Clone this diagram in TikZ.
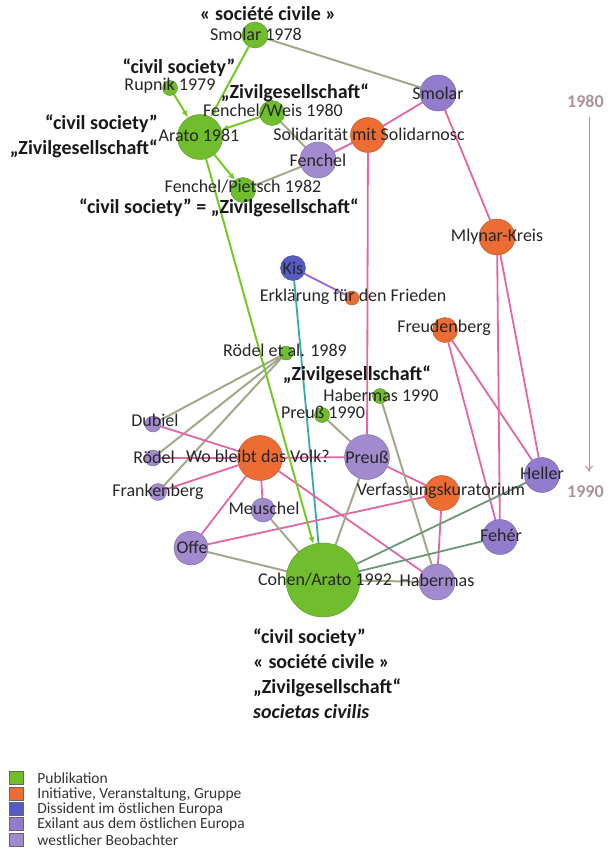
\documentclass[tikz,border=0pt]{standalone}
\usepackage{fontspec}
\setmainfont{Carlito}
\usepackage{tikz}
\usetikzlibrary{arrows.meta}
\usetikzlibrary{positioning}

\definecolor{cpub}{RGB}{112,190,46}
\definecolor{cinit}{RGB}{236,108,52}
\definecolor{cdiss}{RGB}{84,92,196}
\definecolor{cexil}{RGB}{146,124,204}
\definecolor{cwest}{RGB}{162,138,206}
\definecolor{lpink}{RGB}{226,102,164}
\definecolor{lgray}{RGB}{166,166,140}
\definecolor{lgreen}{RGB}{118,200,40}
\definecolor{lteal}{RGB}{56,168,170}
\definecolor{lviolet}{RGB}{150,104,204}
\definecolor{lsage}{RGB}{108,150,120}
\definecolor{ctime}{RGB}{172,148,148}

\pgfdeclarelayer{edges}
\pgfsetlayers{edges,main}

\tikzset{
    bubble/.style={circle, inner sep=0pt, minimum size=#1, line width=0.4pt},
    pub/.style={bubble=#1, fill=cpub, draw=cpub!75!black},
    init/.style={bubble=#1, fill=cinit, draw=cinit!75!black},
    diss/.style={bubble=#1, fill=cdiss, draw=cdiss!75!black},
    exil/.style={bubble=#1, fill=cexil, draw=cexil!75!black},
    westobs/.style={bubble=#1, fill=cwest, draw=cwest!75!black},
    lbl/.style={inner sep=0pt, text=black!85, font=\fontsize{18}{20}\selectfont},
    term/.style={inner sep=0pt, text=black!90, font=\fontsize{20}{25}\selectfont\bfseries},
    rel/.style={draw=lpink, line width=1.8pt},
    cit/.style={draw=lgray, line width=2pt},
    sage/.style={draw=lsage, line width=1.8pt},
    lineage/.style={draw=lgreen, line width=2pt, -{Latex[length=7pt,width=6pt]}},
    legsq/.style={draw=black!60, minimum width=14pt, minimum height=13pt, inner sep=0pt},
    legtxt/.style={inner sep=0pt, text=black!80, font=\fontsize{15.5}{17}\selectfont},
}

\begin{document}
\begin{tikzpicture}[x=1pt, y=-1pt, >=latex]
    \useasboundingbox (0,0) rectangle (612,862);

    % actors and publications
    \node[pub=26pt] (smolarA) at (255,35) {};
    \node[pub=15pt] (rupnik) at (170,88) {};
    \node[pub=25pt] (fweis) at (272,113) {};
    \node[pub=45pt] (arato) at (200,137) {};
    \node[pub=25pt] (fpietsch) at (243,190) {};
    \node[exil=36pt] (smolar) at (438,93) {};
    \node[init=35pt] (solid) at (368,135) {};
    \node[westobs=36pt] (fenchel) at (318,160) {};
    \node[init=36pt] (mlynar) at (497,237) {};
    \node[diss=25pt] (kis) at (293,268) {};
    \node[init=14pt] (erkl) at (352,298) {};
    \node[init=25pt] (freud) at (445,330) {};
    \node[pub=14pt] (roedelA) at (286,353) {};
    \node[pub=15pt] (habA) at (380,396) {};
    \node[pub=15pt] (preussA) at (322,415) {};
    \node[westobs=16pt] (dubiel) at (153,424) {};
    \node[westobs=16pt] (roedel) at (153,458) {};
    \node[init=45pt] (volk) at (260,458) {};
    \node[westobs=45pt] (preuss) at (367,457) {};
    \node[westobs=17pt] (frank) at (158,492) {};
    \node[exil=35pt] (heller) at (542,475) {};
    \node[westobs=24pt] (meuschel) at (263,510) {};
    \node[init=35pt] (verf) at (442,493) {};
    \node[exil=35pt] (feher) at (500,537) {};
    \node[westobs=34pt] (offe) at (191,548) {};
    \node[pub=74pt] (cohen) at (323,580) {};
    \node[westobs=36pt] (habermas) at (437,582) {};

    \begin{pgfonlayer}{edges}
        \draw[cit] (smolarA) -- (smolar);
        \draw[cit] (fweis) -- (fenchel);
        \draw[cit] (fpietsch) -- (fenchel);
        \draw[rel] (fenchel) -- (solid);
        \draw[rel] (solid) -- (smolar);
        \draw[rel] (smolar) -- (mlynar);
        \draw[rel] (solid) -- (preuss);
        \draw[rel] (mlynar) -- (heller);
        \draw[rel] (mlynar) -- (feher);
        \draw[rel] (freud) -- (heller);
        \draw[rel] (freud) -- (feher);
        \draw[draw=lviolet, line width=1.8pt] (kis) -- (erkl);
        \draw[draw=lteal, line width=1.8pt] (kis) -- (cohen.97);
        \draw[cit] (roedelA) -- (dubiel);
        \draw[cit] (roedelA) -- (roedel);
        \draw[cit] (roedelA) -- (frank);
        \draw[rel] (dubiel) -- (volk);
        \draw[rel] (roedel) -- (volk);
        \draw[rel] (frank) -- (volk);
        \draw[rel] (volk) -- (preuss);
        \draw[rel] (volk) -- (meuschel);
        \draw[rel] (volk) -- (offe);
        \draw[rel] (volk) -- (habermas);
        \draw[rel] (offe) -- (verf);
        \draw[rel] (preuss) -- (verf);
        \draw[rel] (verf) -- (habermas);
        \draw[cit] (preussA) -- (preuss);
        \draw[cit] (preuss) -- (cohen);
        \draw[cit] (habA) -- (habermas);
        \draw[cit] (meuschel) -- (cohen);
        \draw[cit] (offe) -- (cohen);
        \draw[cit] (cohen) -- (habermas);
        \draw[sage] (cohen) -- (heller);
        \draw[sage] (cohen) -- (feher);
        \draw[lineage] (smolarA) -- (arato);
        \draw[lineage] (rupnik) -- (arato);
        \draw[lineage] (fweis) -- (arato);
        \draw[lineage] (arato) -- (fpietsch);
        \draw[lineage] (arato) -- (cohen.105);
    \end{pgfonlayer}

    % labels
    \node[term] (socA) at (268,14) {« société civile »};
    \node[lbl] (smolarA-t) at (256,34) {Smolar 1978};
    \node[term] (csA) at (179,68) {“civil society”};
    \node[lbl] (rupnik-t) at (170,86) {Rupnik 1979};
    \node[term] (zgA) at (295,93) {„Zivilgesellschaft“};
    \node[lbl] (fweis-t) at (273,111) {Fenchel/Weis 1980};
    \node[term, align=right, anchor=east] (aratoterm) at (158,136) {“civil society”\\„Zivilgesellschaft“};
    \node[lbl] (arato-t) at (199,135) {Arato 1981};
    \node[lbl] (smolar-t) at (438,93) {Smolar};
    \node[lbl] (solid-t) at (369,134) {Solidarität mit Solidarnosc};
    \node[lbl] (fenchel-t) at (318,160) {Fenchel};
    \node[lbl] (fpietsch-t) at (243,187) {Fenchel/Pietsch 1982};
    \node[term] (eqterm) at (219,208) {“civil society” = „Zivilgesellschaft“};
    \node[lbl] (mlynar-t) at (497,237) {Mlynar-Kreis};
    \node[lbl] (kis-t) at (293,268) {Kis};
    \node[lbl] (erkl-t) at (353,297) {Erklärung für den Frieden};
    \node[lbl] (freud-t) at (444,328) {Freudenberg};
    \node[lbl] (roedelA-t) at (285,350) {Rödel et al. 1989};
    \node[term] (zgB) at (357,375) {„Zivilgesellschaft“};
    \node[lbl] (habA-t) at (381,395) {Habermas 1990};
    \node[lbl] (preussA-t) at (323,412) {Preuß 1990};
    \node[lbl] (dubiel-t) at (155,420) {Dubiel};
    \node[lbl] (roedel-t) at (154,457) {Rödel};
    \node[lbl] (volk-t) at (258,456) {Wo bleibt das Volk?};
    \node[lbl] (preuss-t) at (367,457) {Preuß};
    \node[lbl] (heller-t) at (542,473) {Heller};
    \node[lbl] (frank-t) at (158,492) {Frankenberg};
    \node[lbl] (verf-t) at (441,491) {Verfassungskuratorium};
    \node[lbl] (meuschel-t) at (264,508) {Meuschel};
    \node[lbl] (feher-t) at (501,535) {Fehér};
    \node[lbl] (offe-t) at (192,547) {Offe};
    \node[lbl] (cohen-t) at (325,580) {Cohen/Arato 1992};
    \node[lbl] (habermas-t) at (437,580) {Habermas};
    \node[term, align=left, anchor=north west] (cohenterm) at (253,629)
        {“civil society”\\« société civile »\\„Zivilgesellschaft“\\\itshape societas civilis};

    % time axis
    \node[lbl, text=ctime, anchor=west, font=\fontsize{18}{20}\selectfont\bfseries] (y80) at (567,101) {1980};
    \node[lbl, text=ctime, anchor=west, font=\fontsize{18}{20}\selectfont\bfseries] (y90) at (567,492) {1990};
    \draw[ctime, line width=1pt, -{To[length=6pt,width=8pt]}, shorten <=10pt, shorten >=14pt] (y80.south -| 589,0) -- (y90.north -| 589,0);

    % legend
    \node[legsq, fill=cpub] (k1) at (16,778) {};
    \node[legsq, fill=cinit] (k2) at (16,794) {};
    \node[legsq, fill=cdiss] (k3) at (16,809) {};
    \node[legsq, fill=cexil] (k4) at (16,824) {};
    \node[legsq, fill=cwest] (k5) at (16,840) {};
    \node[legtxt, right=14pt of k1] (k1-t) {Publikation};
    \node[legtxt, right=14pt of k2] (k2-t) {Initiative, Veranstaltung, Gruppe};
    \node[legtxt, right=14pt of k3] (k3-t) {Dissident im östlichen Europa};
    \node[legtxt, right=14pt of k4] (k4-t) {Exilant aus dem östlichen Europa};
    \node[legtxt, right=14pt of k5] (k5-t) {westlicher Beobachter};
\end{tikzpicture}
\end{document}
